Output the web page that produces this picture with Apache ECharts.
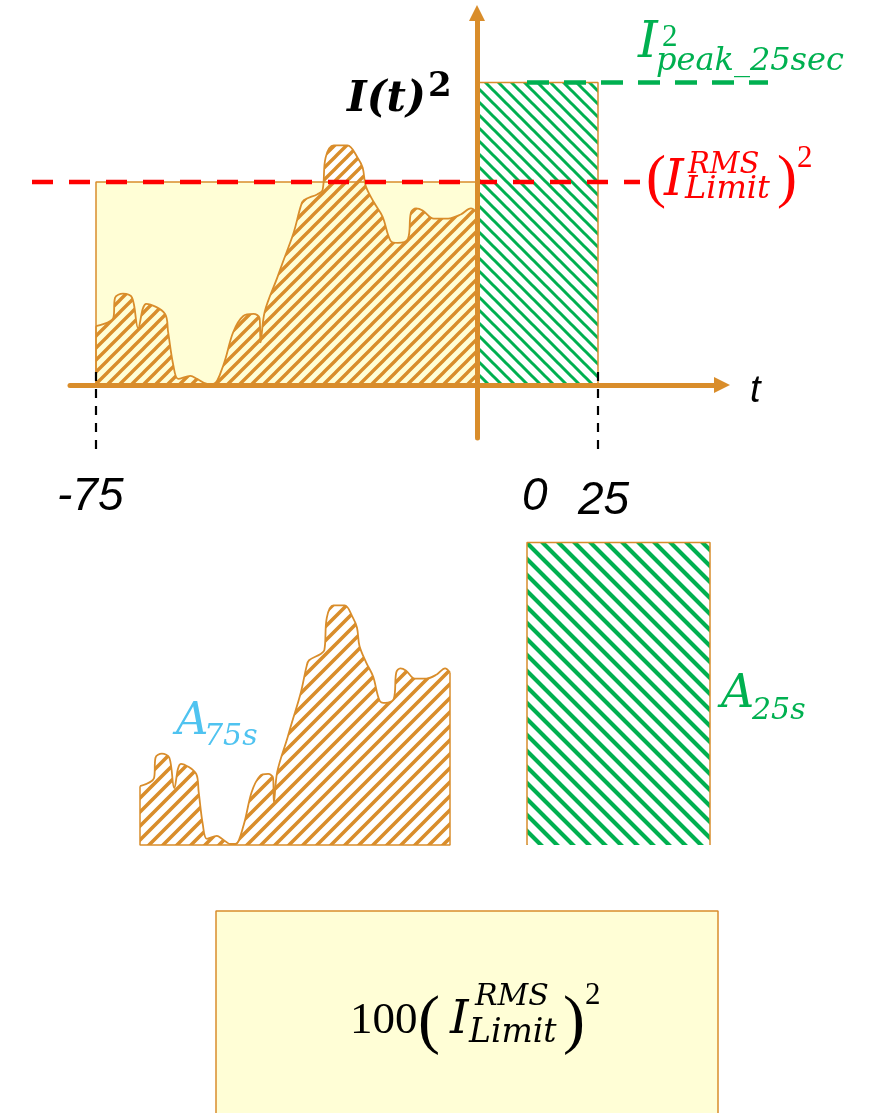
<!DOCTYPE html>
<html>
<head>
<meta charset="utf-8">
<script src="https://cdn.jsdelivr.net/npm/echarts@6/dist/echarts.min.js"></script>
<style>
html,body{margin:0;padding:0;background:#ffffff;}
#chart{width:869px;height:1113px;}
</style>
</head>
<body>
<div id="chart"></div>
<script>
// ---------------- DATA ----------------
// Time (s) of the sampled I(t)^2 curve, and the value in units of (I_Limit^RMS)^2
const curveTime = [-75, -71.6, -71.25, -69.7, -67.9, -66.7, -65.1, -61.4, -60.8, -59.8, -58.8, -56.4, -55.1, -53.1, -51.9, -49.9, -48.0, -46.0, -44.0, -42.8, -42.6, -41.8, -39.3, -38.3, -36.1, -34.7, -34.1, -31.4, -30.4, -29.8, -28.2, -25.5, -23.5, -22.5, -21.9, -20.3, -18.6, -17.0, -15.6, -13.6, -13.0, -12.0, -10.7, -8.5, -5.7, -3.2, -1.2, 0];
const curveValue = [0.29, 0.33, 0.43, 0.45, 0.43, 0.28, 0.40, 0.35, 0.26, 0.10, 0.03, 0.045, 0.03, 0.005, 0.005, 0.10, 0.26, 0.34, 0.35, 0.33, 0.21, 0.36, 0.53, 0.60, 0.75, 0.88, 0.91, 0.94, 0.96, 1.12, 1.18, 1.18, 1.12, 1.07, 0.98, 0.90, 0.83, 0.71, 0.70, 0.72, 0.85, 0.87, 0.86, 0.82, 0.82, 0.84, 0.87, 0.85];
const T_START = -75, T_NOW = 0, T_END = 25, TOTAL_WINDOW = 100;
const RMS_LIMIT_SQ = 1.0;   // (I_Limit^RMS)^2
const PEAK_25_SQ = 1.49;    // I_peak_25sec^2
const tickValues = [-75, 0, 25];
const tickLabels = ['-75', '0', '25'];

// ---------------- STYLE / LAYOUT ----------------
const ORANGE = '#D98D2B', YELLOW = '#FFFED6', GREEN = '#00B050', RED = '#FF0000', BLUE = '#4FC3F0', BLACK = '#000000';
const BASE = 385, UNIT = 203, G_TOP = 13, G_BOT = 438;
const AX0 = 477, K = 381 / 75;              // px per second on the negative side
const topYMin = -(G_BOT - BASE) / UNIT, topYMax = (BASE - G_TOP) / UNIT;
const axX = px => (px - AX0) / K;

function hatch(color, P, lw, dir) {
  const c = document.createElement('canvas');
  c.width = P; c.height = P;
  const g = c.getContext('2d');
  g.strokeStyle = color; g.lineWidth = lw; g.lineCap = 'square';
  g.beginPath();
  for (let k = -1; k <= 2; k++) {
    const cc = k * P;
    if (dir === '/') { g.moveTo(cc + P, -P); g.lineTo(cc - 2 * P, 2 * P); }
    else { g.moveTo(cc - P, -P); g.lineTo(cc + 2 * P, 2 * P); }
  }
  g.stroke();
  return { image: c, repeat: 'repeat' };
}

// Shapes built from the data
const n = curveTime.length;
const curvePts = curveTime.map((t, i) => [t, curveValue[i]]);
const edgePts = [[curveTime[0], curveValue[0]], [curveTime[0], 0], [curveTime[n - 1], 0], [curveTime[n - 1], curveValue[n - 1]]];
const rmsBox = [[T_START, 0], [T_START, RMS_LIMIT_SQ], [T_NOW, RMS_LIMIT_SQ], [T_NOW, 0]];
const peakBox = [[T_NOW, 0], [T_NOW, PEAK_25_SQ], [T_END, PEAK_25_SQ], [T_END, 0]];
const totalBox = [[0, 0], [0, RMS_LIMIT_SQ], [TOTAL_WINDOW, RMS_LIMIT_SQ], [TOTAL_WINDOW, 0]];
const markTop = 0.064, markBot = -0.345;

const hidden = { show: false };
function vx(grid, min, max) { return { type: 'value', gridIndex: grid, min, max, show: false }; }
function vy(grid, min, max) { return { type: 'value', gridIndex: grid, min, max, show: false }; }

function poly(name, grid, data, opts) {
  return Object.assign({
    name, type: 'line', xAxisIndex: grid, yAxisIndex: grid, data,
    showSymbol: false, symbol: 'none', silent: true, animation: false, clip: false,
    lineStyle: { color: ORANGE, width: 1.5 }
  }, opts);
}

function txt(x, y, text, font, fill) {
  return {
    type: 'text', x, y, z: 100, silent: true,
    style: { text, font, fill, textAlign: 'left', align: 'left', textVerticalAlign: 'middle', verticalAlign: 'middle' }
  };
}
const SERIF = '"DejaVu Serif"', TIMES = '"Liberation Serif"', SANS = '"Liberation Sans"';

const tickPos = [[57, 497], [522, 497], [578, 501]];

const option = {
  backgroundColor: '#ffffff',
  animation: false,
  grid: [
    { left: 70, top: G_TOP, width: 652, height: G_BOT - G_TOP, outerBoundsMode: 'none' },
    { left: 96, top: G_TOP, width: 381, height: G_BOT - G_TOP, outerBoundsMode: 'none' },
    { left: 477, top: G_TOP, width: 121, height: G_BOT - G_TOP, outerBoundsMode: 'none' },
    { left: 140, top: 500, width: 310, height: 345, outerBoundsMode: 'none' },
    { left: 527, top: 500, width: 183, height: 345, outerBoundsMode: 'none' },
    { left: 216, top: 911, width: 502, height: 203, outerBoundsMode: 'none' },
    { left: 0, top: G_TOP, width: 869, height: G_BOT - G_TOP, outerBoundsMode: 'none' }
  ],
  xAxis: [
    {
      type: 'value', gridIndex: 0, min: axX(70), max: axX(722), z: 10,
      axisLine: { show: true, onZero: true, symbol: ['none', 'triangle'], symbolSize: [16, 16], lineStyle: { color: ORANGE, width: 5 } },
      axisTick: hidden, axisLabel: hidden, splitLine: hidden
    },
    vx(1, T_START, T_NOW), vx(2, T_NOW, T_END), vx(3, T_START, T_NOW), vx(4, T_NOW, T_END), vx(5, 0, TOTAL_WINDOW),
    vx(6, axX(0), axX(869))
  ],
  yAxis: [
    {
      type: 'value', gridIndex: 0, min: topYMin, max: topYMax, z: 10,
      axisLine: { show: true, onZero: true, symbol: ['none', 'triangle'], symbolSize: [16, 16], lineStyle: { color: ORANGE, width: 5 } },
      axisTick: hidden, axisLabel: hidden, splitLine: hidden
    },
    vy(1, topYMin, topYMax), vy(2, topYMin, topYMax), vy(3, 0, 345 / UNIT), vy(4, 0, 345 / UNIT), vy(5, 0, 1),
    vy(6, topYMin, topYMax)
  ],
  series: [
    // top chart
    poly('rmsBox', 1, rmsBox, { z: 1, areaStyle: { color: YELLOW, opacity: 1 } }),
    poly('curveTop', 1, curvePts, { z: 2, smooth: 0.35, lineStyle: { color: ORANGE, width: 1.8 }, areaStyle: { color: hatch(ORANGE, 12, 3.4, '/'), opacity: 1 } }),
    poly('curveTopEdge', 1, edgePts, { z: 2 }),
    poly('peakBox', 2, peakBox, { z: 2, areaStyle: { color: hatch(GREEN, 13, 3.0, '\\'), opacity: 1 } }),
    poly('rmsLine', 6, [[axX(32), RMS_LIMIT_SQ], [axX(640), RMS_LIMIT_SQ]], { z: 3, lineStyle: { color: RED, width: 4.5, type: [21, 16] } }),
    poly('peakLine', 6, [[axX(527), PEAK_25_SQ], [axX(768), PEAK_25_SQ]], { z: 3, lineStyle: { color: GREEN, width: 4.5, type: [22, 15] } }),
    poly('markStart', 1, [[T_START, markTop], [T_START, markBot]], { z: 12, lineStyle: { color: BLACK, width: 2.2, type: [9, 8] } }),
    poly('markEnd', 2, [[T_END, markTop], [T_END, markBot]], { z: 12, lineStyle: { color: BLACK, width: 2.2, type: [9, 8] } }),
    // middle
    poly('curveMid', 3, curvePts, { z: 2, smooth: 0.35, lineStyle: { color: ORANGE, width: 1.8 }, areaStyle: { color: hatch(ORANGE, 14, 3.6, '/'), opacity: 1 } }),
    poly('curveMidEdge', 3, edgePts, { z: 2 }),
    poly('peakBoxMid', 4, peakBox, { z: 2, areaStyle: { color: hatch(GREEN, 16, 4.2, '\\'), opacity: 1 } }),
    // bottom
    poly('totalBox', 5, totalBox, { z: 1, areaStyle: { color: YELLOW, opacity: 1 } })
  ],
  graphic: [
    // I(t)^2
    txt(347, 100, 'I(t)', 'italic bold 42px ' + SERIF, BLACK),
    txt(428, 87, '2', 'bold 34px ' + SERIF, BLACK),
    // I^2 peak_25sec
    txt(638, 44, 'I', 'italic 50px ' + SERIF, GREEN),
    txt(662, 38, '2', '31px ' + TIMES, GREEN),
    txt(656, 62, 'peak_25sec', 'italic 32px ' + SERIF, GREEN),
    // (I_Limit^RMS)^2 red
    txt(646, 180, '(', '60px ' + TIMES, RED),
    txt(664, 182, 'I', 'italic 50px ' + SERIF, RED),
    txt(688, 165, 'RMS', 'italic 29px ' + SERIF, RED),
    txt(685, 190, 'Limit', 'italic 32px ' + SERIF, RED),
    txt(777, 180, ')', '60px ' + TIMES, RED),
    txt(797, 159, '2', '31px ' + TIMES, RED),
    // t
    txt(750, 391, 't', 'italic 38px ' + SANS, BLACK),
    // tick labels
    txt(tickPos[0][0], tickPos[0][1], tickLabels[0], 'italic 46px ' + SANS, BLACK),
    txt(tickPos[1][0], tickPos[1][1], tickLabels[1], 'italic 46px ' + SANS, BLACK),
    txt(tickPos[2][0], tickPos[2][1], tickLabels[2], 'italic 46px ' + SANS, BLACK),
    // A_75s
    txt(176, 722, 'A', 'italic 45px ' + SERIF, BLUE),
    txt(204, 737, '75s', 'italic 30px ' + SERIF, BLUE),
    // A_25s
    txt(721, 695, 'A', 'italic 46px ' + SERIF, GREEN),
    txt(752, 711, '25s', 'italic 30px ' + SERIF, GREEN),
    // 100 (I_Limit^RMS)^2
    txt(350, 1021, '100', '45px ' + TIMES, BLACK),
    txt(418, 1024, '(', '66px ' + TIMES, BLACK),
    txt(450, 1021, 'I', 'italic 47px ' + SERIF, BLACK),
    txt(475, 997, 'RMS', 'italic 30px ' + SERIF, BLACK),
    txt(469, 1033, 'Limit', 'italic 33px ' + SERIF, BLACK),
    txt(563, 1024, ')', '66px ' + TIMES, BLACK),
    txt(585, 996, '2', '31px ' + TIMES, BLACK)
  ]
};

const chart = echarts.init(document.getElementById('chart'), null, { renderer: 'canvas' });
chart.setOption(option);
</script>
</body>
</html>
